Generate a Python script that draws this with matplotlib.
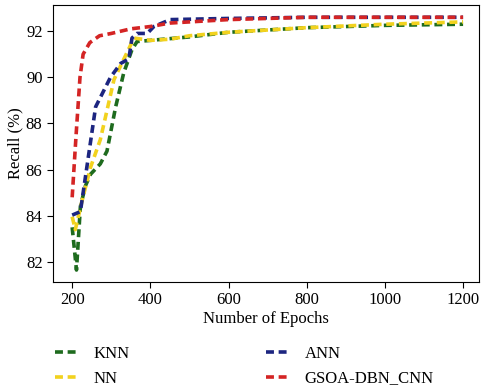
import matplotlib.pyplot as plt

plt.rcParams['font.family'] = ['Liberation Serif', 'DejaVu Serif']

# epochs / recall
knn_x = [200, 211, 221, 234, 247, 272, 289, 311, 332, 353, 366, 400, 500, 600, 800, 1000, 1200]
knn_y = [83.5, 81.65, 84.4, 85.3, 85.8, 86.25, 86.8, 88.7, 90.2, 91.2, 91.55, 91.6, 91.75, 91.95, 92.15, 92.25, 92.3]

nn_x = [200, 208, 226, 247, 272, 307, 324, 358, 400, 450, 500, 600, 800, 1000, 1200]
nn_y = [83.96, 83.4, 84.7, 86.1, 87.3, 89.9, 90.5, 91.7, 91.6, 91.65, 91.8, 91.95, 92.15, 92.3, 92.4]

ann_x = [200, 221, 260, 298, 311, 324, 345, 353, 366, 392, 409, 451, 600, 800, 1000, 1200]
ann_y = [84.03, 84.18, 88.72, 90.0, 90.3, 90.6, 90.8, 91.7, 91.9, 91.9, 92.2, 92.5, 92.55, 92.6, 92.6, 92.6]

gsoa_x = [200, 210, 220, 228, 245, 270, 300, 350, 400, 450, 500, 600, 800, 1000, 1200]
gsoa_y = [84.8, 87.5, 90.0, 91.0, 91.5, 91.8, 91.9, 92.1, 92.2, 92.35, 92.4, 92.5, 92.6, 92.6, 92.6]

fig = plt.figure(figsize=(4.82, 3.89), dpi=100)
ax = fig.add_axes([0.110, 0.275, 0.884, 0.712])

dash = (0, (2.2, 1.3))
ax.plot(knn_x, knn_y, color='#1e6b1e', lw=2.6, ls=dash, label='KNN')
ax.plot(nn_x, nn_y, color='#f2d21e', lw=2.6, ls=dash, label='NN')
ax.plot(ann_x, ann_y, color='#1c2580', lw=2.6, ls=dash, label='ANN')
ax.plot(gsoa_x, gsoa_y, color='#d42424', lw=2.6, ls=dash, label='GSOA-DBN_CNN')

ax.set_xlim(151, 1241)
ax.set_ylim(81.13, 93.13)
ax.set_xticks([200, 400, 600, 800, 1000, 1200])
ax.set_yticks([82, 84, 86, 88, 90, 92])
ax.tick_params(labelsize=12, direction='out', length=4)
ax.set_xlabel('Number of Epochs', fontsize=12, labelpad=2)
ax.set_ylabel('Recall (%)', fontsize=12, labelpad=2)

fig.legend(loc='upper left', bbox_to_anchor=(0.114, 0.11), ncol=2, frameon=False,
           fontsize=12, columnspacing=8.2, handlelength=1.5, labelspacing=0.5,
           borderpad=0, borderaxespad=0)

fig.savefig('out.png', dpi=100)
